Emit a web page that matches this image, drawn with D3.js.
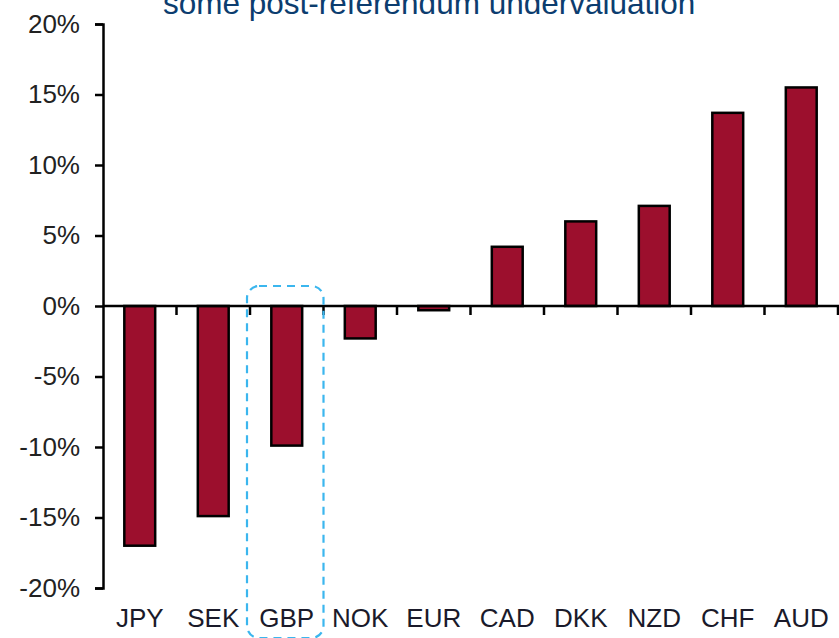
<!DOCTYPE html>
<html>
<head>
<meta charset="utf-8">
<script src="https://cdn.jsdelivr.net/npm/d3@7"></script>
<style>
  html, body { margin: 0; padding: 0; background: #fff; }
  svg { display: block; }
  text { font-family: Arial, "Liberation Sans", sans-serif; }
</style>
</head>
<body>
<svg id="chart" width="839" height="638"></svg>
<script>
const titleText = "some post-referendum undervaluation";
const categories = ["JPY", "SEK", "GBP", "NOK", "EUR", "CAD", "DKK", "NZD", "CHF", "AUD"];
const values = [-17.0, -14.9, -9.9, -2.3, -0.3, 4.2, 6.0, 7.1, 13.7, 15.5];
const yTicks = [20, 15, 10, 5, 0, -5, -10, -15, -20];
const highlighted = ["GBP"];

const svg = d3.select("#chart");
const W = 839, H = 638;
const margin = { left: 103, right: 1, top: 24, bottom: 50 };

const x = d3.scaleBand().domain(categories).range([margin.left, W - margin.right]).padding(0);
const y = d3.scaleLinear().domain([-20, 20]).range([H - margin.bottom, margin.top]);

// Title (partially cut off at top, as in reference)
svg.append("text")
  .attr("x", 163).attr("y", 14)
  .attr("fill", "#0c3d6f")
  .attr("font-size", 31.5)
  .text(titleText);

// Bars
const barW = x.bandwidth() * 0.42;
svg.append("g").selectAll("rect")
  .data(categories.map((c, i) => ({ c, v: values[i] })))
  .join("rect")
  .attr("x", d => x(d.c) + (x.bandwidth() - barW) / 2)
  .attr("y", d => y(Math.max(0, d.v)))
  .attr("width", barW)
  .attr("height", d => Math.abs(y(d.v) - y(0)))
  .attr("fill", "#9c0f2d")
  .attr("stroke", "#000")
  .attr("stroke-width", 2.5);

// Y axis
const yAxis = d3.axisLeft(y).tickValues(yTicks).tickSize(8).tickPadding(15)
  .tickFormat(d => d + "%");
const gy = svg.append("g").attr("transform", `translate(${margin.left},0)`).call(yAxis);
gy.select(".domain").attr("stroke", "#000").attr("stroke-width", 2.5);
gy.selectAll(".tick line").attr("stroke", "#000").attr("stroke-width", 2.5);
gy.selectAll(".tick text").attr("font-size", 26).attr("fill", "#222")
  .attr("font-family", "Arial, 'Liberation Sans', sans-serif");

// Zero line with category boundary ticks
svg.append("line")
  .attr("x1", margin.left).attr("x2", W)
  .attr("y1", y(0)).attr("y2", y(0))
  .attr("stroke", "#000").attr("stroke-width", 2.5);
svg.append("g").selectAll("line")
  .data(categories.slice(1).concat(["__end"]))
  .join("line")
  .attr("x1", d => d === "__end" ? x.range()[1] : x(d))
  .attr("x2", d => d === "__end" ? x.range()[1] : x(d))
  .attr("y1", y(0)).attr("y2", y(0) + 9)
  .attr("stroke", "#000").attr("stroke-width", 2.5);

// Category labels
svg.append("g").selectAll("text")
  .data(categories)
  .join("text")
  .attr("x", d => x(d) + x.bandwidth() / 2)
  .attr("y", 627)
  .attr("text-anchor", "middle")
  .attr("font-size", 26)
  .attr("fill", "#1a1a2a")
  .text(d => d);

// Highlight box around GBP
highlighted.forEach(c => {
  svg.append("rect")
    .attr("x", x(c) - 3)
    .attr("y", y(0) - 20)
    .attr("width", x.bandwidth() + 3)
    .attr("height", 352)
    .attr("rx", 12).attr("ry", 12)
    .attr("fill", "none")
    .attr("stroke", "#3bb6ee")
    .attr("stroke-width", 2.2)
    .attr("stroke-dasharray", "8,6");
});
</script>
</body>
</html>
